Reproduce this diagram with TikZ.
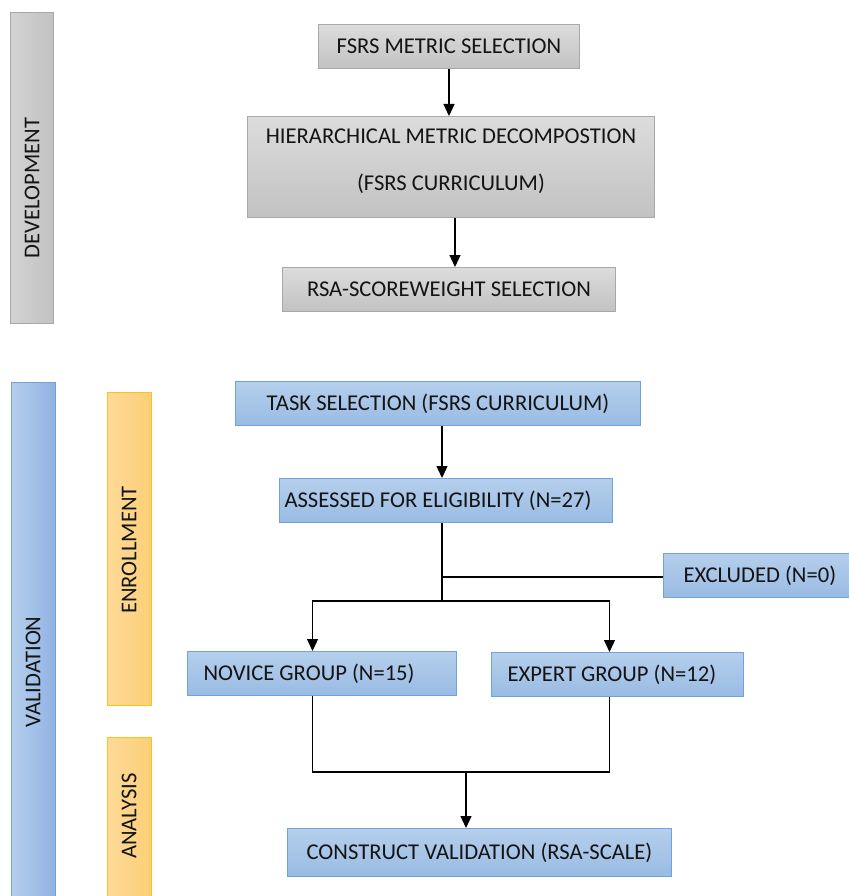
\documentclass[tikz,border=0pt]{standalone}
\usepackage{fontspec}
\setmainfont{Carlito}
\usepackage{tikz}
\usetikzlibrary{positioning}
\usetikzlibrary{arrows.meta}

\definecolor{graytop}{HTML}{DCDCDC}
\definecolor{graybot}{HTML}{C2C2C2}
\definecolor{grayline}{HTML}{A8A8A8}
\definecolor{bluetop}{HTML}{B5CFEC}
\definecolor{bluebot}{HTML}{99BBE3}
\definecolor{blueline}{HTML}{6FA3DA}
\definecolor{orangeleft}{HTML}{FDDA98}
\definecolor{orangeright}{HTML}{FCCF77}
\definecolor{orangeline}{HTML}{FFC21A}

\tikzset{
    box/.style={anchor=north west, minimum height=44pt, inner sep=0pt,
        font=\fontsize{22.6}{27}\selectfont, text=black!92},
    graybox/.style={box, draw=grayline, line width=1pt, top color=graytop, bottom color=graybot},
    bluebox/.style={box, draw=blueline, line width=1pt, top color=bluetop, bottom color=bluebot},
    leftbox/.style={align=flush left, inner xsep=#1, text width=\pgfkeysvalueof{/pgf/minimum width}-2*#1},
    grayband/.style={anchor=north west, inner sep=0pt, minimum width=43pt,
        draw=grayline, line width=1pt, left color=graytop!90!gray, right color=graybot},
    blueband/.style={anchor=north west, inner sep=0pt, minimum width=44pt,
        draw=blueline, line width=1pt, left color=bluetop, right color=bluebot!95!blue},
    orangeband/.style={anchor=north west, inner sep=0pt, minimum width=44pt,
        draw=orangeline, line width=1pt, left color=orangeleft, right color=orangeright},
    bandlabel/.style={rotate=90, font=\fontsize{22.6}{27}\selectfont, text=black!92},
    link/.style={draw=black, line width=1.3pt},
    arr/.style={link, -{Triangle[width=11pt,length=12pt]}},
}

\begin{document}
\begin{tikzpicture}[x=1pt, y=-1pt]
    \useasboundingbox (0,0) rectangle (848,896);

    % phase bands
    \node[grayband, minimum height=311pt] (devband) at (10,12) {};
    \node[bandlabel] (devlabel) at (32,188) {DEVELOPMENT};

    \node[blueband, minimum height=520pt] (valband) at (11,382) {};
    \node[bandlabel] (vallabel) at (33,672) {VALIDATION};

    \node[orangeband, minimum height=313pt] (enrband) at (107,392) {};
    \node[bandlabel] (enrlabel) at (129,550) {ENROLLMENT};

    \node[orangeband, minimum height=165pt] (anaband) at (107,737) {};
    \node[bandlabel] (analabel) at (129,816) {ANALYSIS};

    % development
    \node[graybox, minimum width=261pt] (metric) at (318,24) {FSRS METRIC SELECTION};
    \node[graybox, minimum width=407pt, minimum height=101pt, align=center] (decomp) at (247,116)
        {HIERARCHICAL METRIC DECOMPOSTION\\[20pt](FSRS CURRICULUM)\\[-12pt]};
    \node[graybox, minimum width=333pt] (weight) at (282,267) {RSA-SCOREWEIGHT SELECTION};

    \draw[arr] (metric.south) -- (metric.south |- decomp.north);
    \draw[arr] ([xshift=4pt]decomp.south) -- ([xshift=4pt]decomp.south |- weight.north);

    % enrollment
    \node[bluebox, minimum width=405pt] (task) at (235,381) {TASK SELECTION (FSRS CURRICULUM)};
    \node[bluebox, minimum width=333pt, leftbox=5pt] (elig) at (279,478) {ASSESSED FOR ELIGIBILITY (N=27)};
    \node[bluebox, minimum width=200pt, leftbox=20pt] (excl) at (663,553) {EXCLUDED (N=0)};
    \node[bluebox, minimum width=269pt, leftbox=16pt] (novice) at (187,651) {NOVICE GROUP (N=15)};
    \node[bluebox, minimum width=252pt, leftbox=16pt] (expert) at (491,652) {EXPERT GROUP (N=12)};

    \coordinate (trunk) at (442,601);
    \draw[arr] ([xshift=4pt]task.south) -- ([xshift=4pt]task.south |- elig.north);
    \draw[link] (elig.south -| trunk) -- (trunk);
    \draw[link] (trunk |- 0,577) -- (excl.west |- 0,577);
    \draw[arr] (trunk) -| ([xshift=-9.5pt]novice.north);
    \draw[arr] (trunk) -| ([xshift=-8pt]expert.north);

    % analysis
    \node[bluebox, minimum width=384pt, minimum height=48pt] (construct) at (287,828) {CONSTRUCT VALIDATION (RSA-SCALE)};

    \coordinate (merge) at (466,772);
    \draw[link] ([xshift=-9.5pt]novice.south) |- (merge) -| ([xshift=-8pt]expert.south);
    \draw[arr] (merge) -- (merge |- construct.north);
\end{tikzpicture}
\end{document}
